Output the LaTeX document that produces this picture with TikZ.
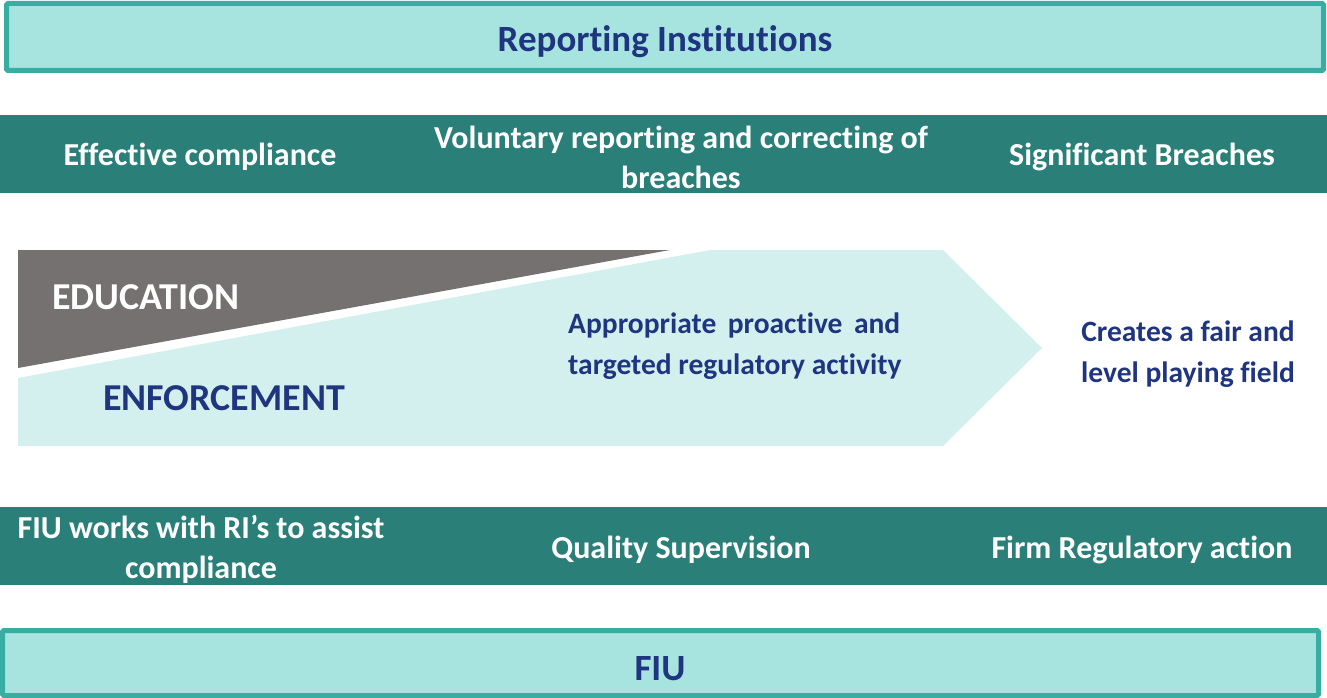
\documentclass[tikz,border=0pt]{standalone}
\usepackage{fontspec}
\setmainfont{Carlito}[Ligatures={NoCommon}]
\definecolor{boxfill}{HTML}{A8E4DF}
\definecolor{boxline}{HTML}{38ADA2}
\definecolor{band}{HTML}{2A8078}
\definecolor{lightarrow}{HTML}{D3F0EE}
\definecolor{edugray}{HTML}{757170}
\definecolor{navy}{HTML}{1F3580}
\begin{document}
\begin{tikzpicture}[x=1pt,y=-1pt,
  frame/.style={draw=boxline,line width=5pt,fill=boxfill,rounded corners=1.5pt},
  bandbox/.style={fill=band},
  wtext/.style={text=white,font=\fontsize{32}{40}\selectfont\bfseries,align=center,inner sep=0pt},
  title/.style={text=navy,font=\fontsize{37}{40}\selectfont\bfseries,inner sep=0pt},
  big/.style={font=\fontsize{38}{40}\selectfont\bfseries,inner sep=0pt,anchor=west},
  small/.style={text=navy,font=\fontsize{29.5}{41}\selectfont\bfseries,inner sep=0pt}]
\useasboundingbox (0,0) rectangle (1327,698);
% frames
\draw[frame] (6.5,3.5) rectangle (1323.5,70.5);
\node[title] (ri) at (665,42) {Reporting Institutions};
\draw[frame] (2.5,630.5) rectangle (1318.5,695.5);
\node[title] (fiu) at (660,669) {FIU};
% bands
\fill[bandbox] (0,115) rectangle (1327,193);
\fill[bandbox] (0,507) rectangle (1327,585);
\node[wtext] (ec) at (200,157) {Effective compliance};
\node[wtext] (vr) at (681,157) {Voluntary reporting and correcting of\\breaches};
\node[wtext] (sb) at (1142,157) {Significant Breaches};
\node[wtext] (fw) at (201,549) {FIU works with RI’s to assist\\compliance};
\node[wtext] (qs) at (681,550) {Quality Supervision};
\node[wtext] (fr) at (1142,550) {Firm Regulatory action};
% middle shapes
\fill[edugray] (18,250) -- (670,250) -- (18,368) -- cycle;
\fill[lightarrow] (18,378) -- (710,250) -- (943,250) -- (1042,348) -- (943,446) -- (18,446) -- cycle;
\node[big,text=white] (edu) at (52,297) {EDUCATION};
\node[big,text=navy] (enf) at (103,398) {ENFORCEMENT};
\node[small,align=left,anchor=west] (ap) at (568,346) {\makebox[332pt][s]{Appropriate\hfill proactive\hfill and}\\targeted regulatory activity};
\node[small,align=center] (cf) at (1188,354) {Creates a fair and\\level playing field};
\end{tikzpicture}
\end{document}
